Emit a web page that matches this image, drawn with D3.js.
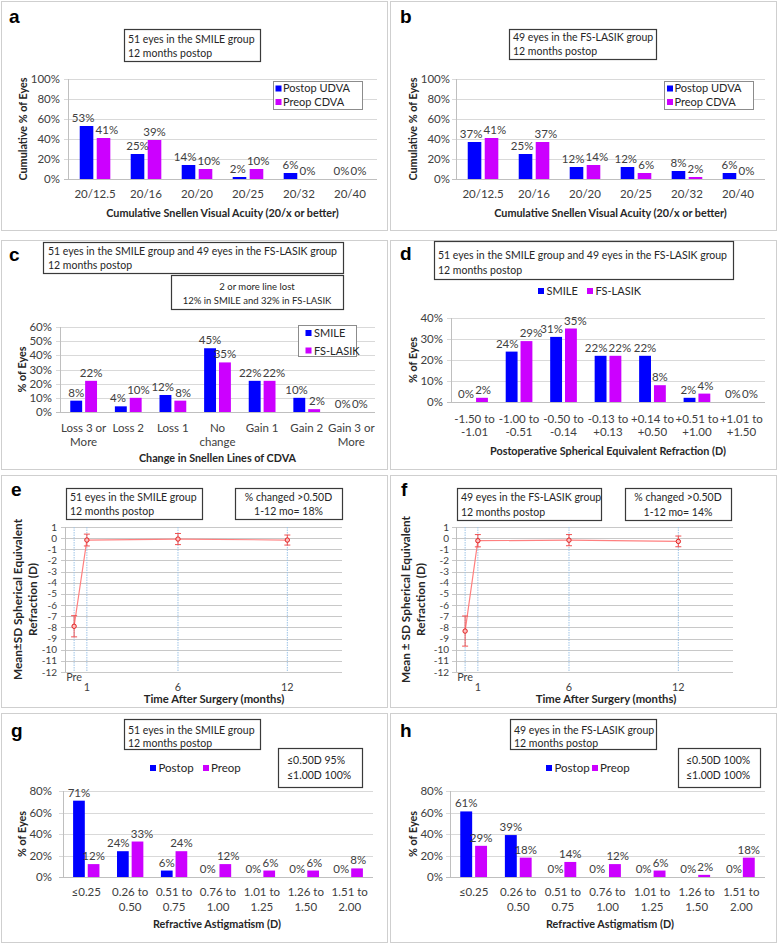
<!DOCTYPE html>
<html><head><meta charset="utf-8">
<script src="https://cdn.jsdelivr.net/npm/d3@7"></script>
<style>
body{margin:0;background:#fff}
text{font-family:Lato,"Liberation Sans",Arial,sans-serif}
</style>
</head><body>
<svg id="chart" width="778" height="945"></svg>
<script>
// ---------------- DATA ----------------
const acuityCats = ["20/12.5","20/16","20/20","20/25","20/32","20/40"];
const aPostopUDVA = [53,25,14,2,6,0];
const aPreopCDVA  = [41,39,10,10,0,0];
const bPostopUDVA = [37,25,12,12,8,6];
const bPreopCDVA  = [41,37,14,6,2,0];

const linesCats = ["Loss 3 or\nMore","Loss 2","Loss 1","No\nchange","Gain 1","Gain 2","Gain 3 or\nMore"];
const cSMILE   = [8,4,12,45,22,10,0];
const cFSLASIK = [22,10,8,35,22,2,0];

const seCats = ["-1.50 to\n-1.01","-1.00 to\n-0.51","-0.50 to\n-0.14","-0.13 to\n+0.13","+0.14 to\n+0.50","+0.51 to\n+1.00","+1.01 to\n+1.50"];
const dSMILE   = [0,24,31,22,22,2,0];
const dFSLASIK = [2,29,35,22,8,4,0];

const timeLabels = ["Pre","1","6","12"];
const timeX      = [0.3,1,6,12];
const eMean = [-7.9,-0.17,-0.08,-0.17];
const eSD   = [0.95,0.53,0.5,0.45];
const fMean = [-8.33,-0.23,-0.18,-0.29];
const fSD   = [1.35,0.55,0.5,0.48];

const astigCats = ["≤0.25","0.26 to\n0.50","0.51 to\n0.75","0.76 to\n1.00","1.01 to\n1.25","1.26 to\n1.50","1.51 to\n2.00"];
const gPostop = [71,24,6,0,0,0,0];
const gPreop  = [12,33,24,12,6,6,8];
const hPostop = [61,39,0,0,0,0,0];
const hPreop  = [29,18,14,12,6,2,18];

// ---------------- STYLE ----------------
const BLUE = "#0000FF", MAG = "#CC00FF";
const TXT = "#404040", TITLE = "#262626";
const FS_TICK = 11.5, FS_LABEL = 11.5, FS_TITLE = 10.8, FS_INFO = 10.5, FS_LEG = 11;
const svg = d3.select("#chart");

function addText(x, y, s, o = {}) {
  const t = svg.append("text")
    .attr("font-size", o.size || 10)
    .attr("font-weight", o.weight || "normal")
    .attr("text-anchor", o.anchor || "start")
    .attr("fill", o.fill || TXT)
    .text(s);
  if (o.rotate) t.attr("transform", `translate(${x},${y}) rotate(-90)`);
  else t.attr("x", x).attr("y", y);
  return t;
}
function panel(x, y, w, h, letter, lx, ly) {
  svg.append("rect").attr("x", x + 0.5).attr("y", y + 0.5).attr("width", w).attr("height", h)
    .attr("fill", "none").attr("stroke", "#CFCFCF");
  svg.append("text").attr("x", lx).attr("y", ly).attr("font-size", 19).attr("font-weight", "bold")
    .attr("fill", "#000").style("font-family", "'Liberation Sans',Arial,sans-serif").text(letter);
}
function box(x, y, w, h, lines, o = {}) {
  svg.append("rect").attr("x", x + 0.5).attr("y", y + 0.5).attr("width", w).attr("height", h)
    .attr("fill", "#fff").attr("stroke", "#3a3a3a").attr("stroke-width", 1.2);
  lines.forEach((l, i) => {
    if (o.center) addText(x + w / 2, o.base[i], l, {anchor: "middle", size: o.size || FS_INFO, fill: "#262626"});
    else addText(o.tx, o.base[i], l, {size: o.size || FS_INFO, fill: "#262626"});
  });
}
function legendItems(items, swY, base, size) {
  items.forEach(it => {
    svg.append("rect").attr("x", it.sx).attr("y", swY).attr("width", 6).attr("height", 6).attr("fill", it.color);
    addText(it.tx, base, it.name, {size: size || FS_LEG, fill: "#262626"});
  });
}

function barChart(o) {
  const x0 = d3.scaleBand().domain(o.cats).range([o.left, o.right]).paddingInner(0.4).paddingOuter(0.23);
  const x1 = d3.scaleBand().domain(o.series.map(s => s.name)).range([0, x0.bandwidth()]).paddingInner(0.2);
  const y = d3.scaleLinear().domain([0, o.max]).range([o.y0, o.yTop]);
  const ticks = d3.range(0, o.max + 0.001, o.step);
  const g = svg.append("g");
  g.selectAll("line.grid").data(ticks).join("line")
    .attr("x1", o.left - 4).attr("x2", o.right)
    .attr("y1", d => Math.round(y(d)) + 0.5).attr("y2", d => Math.round(y(d)) + 0.5)
    .attr("stroke", d => d === 0 ? "#BFBFBF" : "#D9D9D9");
  g.append("line").attr("x1", o.left + 0.5).attr("x2", o.left + 0.5).attr("y1", o.yTop).attr("y2", o.y0)
    .attr("stroke", "#BFBFBF");
  g.selectAll("text.yt").data(ticks).join("text")
    .attr("x", o.yLabelX).attr("y", d => y(d) + 4).attr("text-anchor", "end")
    .attr("font-size", FS_TICK).attr("fill", TXT).text(d => d + "%");
  // bars
  o.series.forEach(s => {
    g.selectAll(null).data(s.values).join("rect")
      .attr("x", (d, i) => x0(o.cats[i]) + x1(s.name))
      .attr("y", d => y(d)).attr("width", x1.bandwidth())
      .attr("height", d => o.y0 - y(d)).attr("fill", s.color);
  });
  // data labels; side-by-side labels that collide are nudged apart horizontally
  const labels = o.series.map(s => s.values.map((v, i) =>
    addText(x0(o.cats[i]) + x1(s.name) + x1.bandwidth() / 2, y(v) - 4, v + "%", {anchor: "middle", size: FS_LABEL})));
  o.cats.forEach((c, i) => {
    const a = labels[0][i], b = labels[1][i];
    const ba = a.node().getBBox(), bb = b.node().getBBox();
    const ov = ba.x + ba.width - bb.x;
    const vOv = Math.abs(ba.y - bb.y) < ba.height;
    if (ov > -0.5 && vOv) {
      const s = ov / 2 + 0.6;
      a.attr("x", +a.attr("x") - s);
      b.attr("x", +b.attr("x") + s);
    }
  });
  // x tick labels
  o.cats.forEach(c => {
    const t = svg.append("text").attr("text-anchor", "middle").attr("font-size", FS_TICK).attr("fill", TXT);
    c.split("\n").forEach((part, k) => {
      t.append("tspan").attr("x", x0(c) + x0.bandwidth() / 2).attr("y", o.xTickY + k * o.lineGap).text(part);
    });
  });
  addText(o.xTitleX || (o.left + o.right) / 2, o.xTitleY, o.xTitle, {anchor: "middle", weight: "bold", size: FS_TITLE, fill: TITLE});
  addText(o.yTitleX, (o.yTop + o.y0) / 2, o.yTitle, {anchor: "middle", weight: "bold", size: FS_TITLE, fill: TITLE, rotate: true});
}

function lineChart(o) {
  const x = d3.scaleLinear().domain([-0.2, 15]).range([o.left, o.right]);
  const y = d3.scaleLinear().domain([-12, 1]).range([o.bottom, o.top]);
  const ticks = d3.range(-12, 2);
  const g = svg.append("g");
  g.selectAll("line.h").data(ticks).join("line")
    .attr("x1", o.left - 4).attr("x2", o.right)
    .attr("y1", d => Math.round(y(d)) + 0.5).attr("y2", d => Math.round(y(d)) + 0.5)
    .attr("stroke", "#C8C8C8").attr("stroke-width", 1);
  g.append("line").attr("x1", o.left + 0.5).attr("x2", o.left + 0.5).attr("y1", o.top).attr("y2", o.bottom)
    .attr("stroke", "#BFBFBF");
  g.selectAll("line.v").data(timeX).join("line")
    .attr("x1", d => x(d)).attr("x2", d => x(d)).attr("y1", o.top).attr("y2", o.bottom)
    .attr("stroke", "#9DC3E6").attr("stroke-dasharray", "1.5,1");
  g.selectAll("text.yt").data(ticks).join("text")
    .attr("x", o.yLabelX).attr("y", d => y(d) + 3.5).attr("text-anchor", "end")
    .attr("font-size", 10).attr("fill", TXT).text(d => d);
  timeLabels.forEach((l, i) => {
    addText(x(timeX[i]), i === 0 ? o.preY : o.xTickY, l, {anchor: "middle", size: 10.8});
  });
  const line = d3.line().x((d, i) => x(timeX[i])).y(d => y(d));
  g.append("path").datum(o.mean).attr("d", line).attr("fill", "none").attr("stroke", "#FF8080").attr("stroke-width", 1.2);
  o.mean.forEach((m, i) => {
    const cx = x(timeX[i]);
    g.append("line").attr("x1", cx).attr("x2", cx).attr("y1", y(m + o.sd[i])).attr("y2", y(m - o.sd[i]))
      .attr("stroke", "#F05050").attr("stroke-width", 1);
    [m + o.sd[i], m - o.sd[i]].forEach(v => {
      g.append("line").attr("x1", cx - 3).attr("x2", cx + 3).attr("y1", y(v)).attr("y2", y(v))
        .attr("stroke", "#F05050").attr("stroke-width", 1);
    });
    g.append("circle").attr("cx", cx).attr("cy", y(m)).attr("r", 2.2)
      .attr("fill", "#FFC0C0").attr("stroke", "#E02020").attr("stroke-width", 1);
  });
  addText(o.xTitleX, o.xTitleY, "Time After Surgery (months)", {anchor: "middle", weight: "bold", size: 11.3, fill: TITLE});
  o.yTitle.forEach((t, k) => addText(o.yTitleX[k], (o.top + o.bottom) / 2, t,
    {anchor: "middle", weight: "bold", size: 11.8, fill: TITLE, rotate: true}));
}

// ---------------- PANELS ----------------
panel(1, 1, 386, 229, "a", 9, 23);
panel(390, 1, 386, 229, "b", 400, 23);
panel(1, 240, 386, 229, "c", 9, 261);
panel(390, 240, 386, 229, "d", 400, 260);
panel(1, 475, 386, 232, "e", 11, 496);
panel(390, 475, 386, 232, "f", 401, 496);
panel(1, 713, 386, 229, "g", 11, 737);
panel(390, 713, 386, 229, "h", 400, 737);

// a
barChart({cats: acuityCats, series: [{name: "Postop UDVA", values: aPostopUDVA, color: BLUE}, {name: "Preop CDVA", values: aPreopCDVA, color: MAG}],
  left: 68, right: 377, y0: 179, yTop: 79, max: 100, step: 20, yLabelX: 60, yTitleX: 27, xTickY: 197.5, lineGap: 13,
  xTitleY: 216.5, xTitle: "Cumulative Snellen Visual Acuity (20/x or better)", yTitle: "Cumulative % of Eyes"});
box(124, 29, 136, 32, ["51 eyes in the SMILE group", "12 months postop"], {tx: 128, base: [43, 57]});
svg.append("rect").attr("x", 273.5).attr("y", 81.5).attr("width", 89).attr("height", 28).attr("fill", "#fff").attr("stroke", "#8c8c8c");
legendItems([{name: "Postop UDVA", color: BLUE, sx: 275.5, tx: 283}], 85.5, 92.3);
legendItems([{name: "Preop CDVA", color: MAG, sx: 275.5, tx: 283}], 99, 105.8);

// b
barChart({cats: acuityCats, series: [{name: "Postop UDVA", values: bPostopUDVA, color: BLUE}, {name: "Preop CDVA", values: bPreopCDVA, color: MAG}],
  left: 456, right: 765, y0: 179, yTop: 79, max: 100, step: 20, yLabelX: 450, yTitleX: 417, xTickY: 197.5, lineGap: 13,
  xTitleY: 216.5, xTitle: "Cumulative Snellen Visual Acuity (20/x or better)", yTitle: "Cumulative % of Eyes"});
box(509, 29, 147, 30, ["49 eyes in the FS-LASIK group", "12 months postop"], {tx: 513, base: [41, 55]});
svg.append("rect").attr("x", 664.5).attr("y", 81.5).attr("width", 89).attr("height", 28).attr("fill", "#fff").attr("stroke", "#8c8c8c");
legendItems([{name: "Postop UDVA", color: BLUE, sx: 667, tx: 674.5}], 85.5, 92.3);
legendItems([{name: "Preop CDVA", color: MAG, sx: 667, tx: 674.5}], 99, 105.8);

// c
barChart({cats: linesCats, series: [{name: "SMILE", values: cSMILE, color: BLUE}, {name: "FS-LASIK", values: cFSLASIK, color: MAG}],
  left: 60, right: 375, y0: 412, yTop: 327, max: 60, step: 10, yLabelX: 52, yTitleX: 26, xTickY: 432, lineGap: 13.5,
  xTitleY: 462, xTitle: "Change in Snellen Lines of CDVA", yTitle: "% of Eyes"});
box(43, 242, 300, 31, ["51 eyes in the SMILE group and 49 eyes in the FS-LASIK group", "12 months postop"], {tx: 48, base: [255, 269]});
box(171, 275, 172, 34, ["2 or more line lost", "12% in SMILE and 32% in FS-LASIK"], {center: true, base: [290, 303.5], size: 9.5});
svg.append("rect").attr("x", 298.5).attr("y", 325.5).attr("width", 58).attr("height", 31).attr("fill", "#fff").attr("stroke", "#8c8c8c");
legendItems([{name: "SMILE", color: BLUE, sx: 305.5, tx: 314}], 330, 337);
legendItems([{name: "FS-LASIK", color: MAG, sx: 305.5, tx: 314}], 347.5, 354.5);

// d
barChart({cats: seCats, series: [{name: "SMILE", values: dSMILE, color: BLUE}, {name: "FS-LASIK", values: dFSLASIK, color: MAG}],
  left: 451, right: 765, y0: 402, yTop: 318, max: 40, step: 10, yLabelX: 443, yTitleX: 417, xTickY: 423, lineGap: 12.5,
  xTitleY: 454.5, xTitle: "Postoperative Spherical Equivalent Refraction (D)", yTitle: "% of Eyes"});
box(434, 241, 299, 38, ["51 eyes in the SMILE group and 49 eyes in the FS-LASIK group", "12 months postop"], {tx: 438, base: [259, 274]});
legendItems([{name: "SMILE", color: BLUE, sx: 538, tx: 546.5}, {name: "FS-LASIK", color: MAG, sx: 587, tx: 595.5}], 288, 295.3);

// e
lineChart({mean: eMean, sd: eSD, left: 65, right: 342, top: 527, bottom: 672, yLabelX: 57, preY: 681, xTickY: 690.5,
  xTitleX: 214, xTitleY: 703, yTitle: ["Mean±SD Spherical Equivalent", "Refraction (D)"], yTitleX: [22, 37]});
box(66, 488, 136, 31, ["51 eyes in the SMILE group", "12 months postop"], {tx: 70, base: [500.5, 515]});
box(235, 488, 107, 31, ["% changed >0.50D", "1-12 mo= 18%"], {center: true, base: [500.5, 515]});

// f
lineChart({mean: fMean, sd: fSD, left: 456, right: 733, top: 527, bottom: 672, yLabelX: 449, preY: 681, xTickY: 690.5,
  xTitleX: 606, xTitleY: 703, yTitle: ["Mean ± SD Spherical Equivalent", "Refraction (D)"], yTitleX: [410, 425]});
box(457, 488, 144, 32, ["49 eyes in the FS-LASIK group", "12 months postop"], {tx: 461, base: [501, 515.5]});
box(625, 488, 106, 32, ["% changed >0.50D", "1-12 mo= 14%"], {center: true, base: [501, 515.5]});

// g
barChart({cats: astigCats, series: [{name: "Postop", values: gPostop, color: BLUE}, {name: "Preop", values: gPreop, color: MAG}],
  left: 63, right: 373, y0: 877, yTop: 791, max: 80, step: 20, yLabelX: 52, yTitleX: 26, xTickY: 896, lineGap: 15,
  xTitleY: 927.5, xTitleX: 217, xTitle: "Refractive Astigmatism (D)", yTitle: "% of Eyes"});
box(124, 719, 136, 30, ["51 eyes in the SMILE group", "12 months postop"], {tx: 128, base: [734, 747]});
legendItems([{name: "Postop", color: BLUE, sx: 150, tx: 158.5}, {name: "Preop", color: MAG, sx: 203, tx: 211}], 765, 772, 11.5);
box(278, 748, 84, 39, ["≤0.50D 95%", "≤1.00D 100%"], {tx: 287, base: [764, 779]});

// h
barChart({cats: astigCats, series: [{name: "Postop", values: hPostop, color: BLUE}, {name: "Preop", values: hPreop, color: MAG}],
  left: 450, right: 765, y0: 877, yTop: 791, max: 80, step: 20, yLabelX: 443, yTitleX: 417, xTickY: 896, lineGap: 15,
  xTitleY: 927.5, xTitleX: 610, xTitle: "Refractive Astigmatism (D)", yTitle: "% of Eyes"});
box(510, 719, 146, 30, ["49 eyes in the FS-LASIK group", "12 months postop"], {tx: 514, base: [734, 747]});
legendItems([{name: "Postop", color: BLUE, sx: 546, tx: 554.5}, {name: "Preop", color: MAG, sx: 592, tx: 600}], 765, 772, 11.5);
box(678, 748, 82, 39, ["≤0.50D 100%", "≤1.00D 100%"], {tx: 686, base: [764, 779]});
</script>
</body></html>
